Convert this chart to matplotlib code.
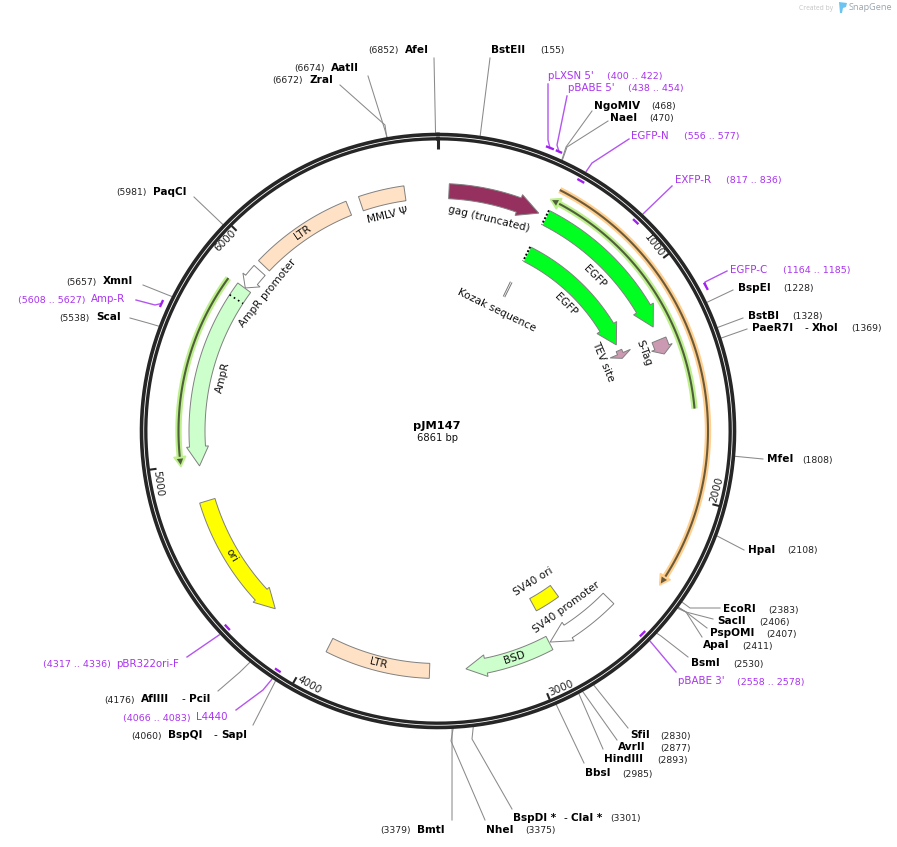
import numpy as np
import matplotlib
matplotlib.use("Agg")
import matplotlib.pyplot as plt
from matplotlib.patches import Polygon

plt.rcParams['font.family'] = ['DejaVu Sans']

# ---------- data ----------
PLASMID_NAME = "pJM147"
PLASMID_LEN = 6861
RULER_TICKS = [1000, 2000, 3000, 4000, 5000, 6000]

# annotated features: start, arrowhead base, tip (bp); None head -> plain box
FEATURE_NAMES = ["gag (truncated)", "EGFP", "EGFP", "TEV site", "S-Tag", "LTR", "MMLV \u03a8",
                 "AmpR promoter", "AmpR", "ori", "LTR", "BSD", "SV40 promoter", "SV40 ori"]
FEATURE_START = [50, 509, 507, 1258, 1288, 5975, 6504, 5946, 5841, 4825, 3943, 2902, 2563, 2744]
FEATURE_HEAD = [375, 1130, 1115, 1277, 1325, None, None, 5889, 5075, 4330, None, 3211, 2802, None]
FEATURE_END = [473, 1224, 1224, 1305, 1357, 6445, 6710, 5843, 4987, 4240, 3469, 3303, 2897, 2884]
FEATURE_LABEL_BP = [257, 865, 861, 1283, 1321, 6209, 6608, 5889, 5412, 4555, 3705, 3077, 2741, 2817]

# thin "direction" features
LINE_START = [511, 1620, 5834]
LINE_END = [2371, 501, 5003]

# enzyme sites
ENZYME_NAMES = ["AfeI", "BstEII", "AatII", "ZraI", "PaqCI", "XmnI", "ScaI", "NgoMIV", "NaeI",
                "BspEI", "BstBI", "PaeR7I", "MfeI", "HpaI", "EcoRI", "SacII", "PspOMI", "ApaI",
                "BsmI", "SfiI", "AvrII", "HindIII", "BbsI", "BspDI *", "NheI", "BmtI",
                "AflIII", "BspQI"]
ENZYME_POS = [6852, 155, 6674, 6672, 5981, 5657, 5538, 468, 470,
              1228, 1328, 1369, 1808, 2108, 2383, 2406, 2407, 2411,
              2530, 2830, 2877, 2893, 2985, 3301, 3375, 3379,
              4176, 4060]

# primers
PRIMER_NAMES = ["pLXSN 5'", "pBABE 5'", "EGFP-N", "EXFP-R", "EGFP-C", "Amp-R", "pBABE 3'",
                "pBR322ori-F", "L4440"]
PRIMER_START = [400, 438, 556, 817, 1164, 5608, 2558, 4317, 4066]
PRIMER_END = [422, 454, 577, 836, 1185, 5627, 2578, 4336, 4083]

# ---------- layout & style ----------
W, H = 897, 847
CX, CY = 438, 431
GRAY_EDGE = "#808080"
PURPLE = "#AA33EE"
PURPLE_LINE = "#B455F0"

FEATURE_STYLE = [
    dict(c="#96305F", r=240, label_r=218, w=7.5, hw=11),
    dict(c="#00FF21", r=239, label_r=220, w=8, hw=11.5, dots=True),
    dict(c="#00FF21", r=198, label_r=180, w=8, hw=11.5, dots=True),
    dict(c="#CC99B2", r=198, label_r=179, w=3, hw=11),
    dict(c="#CC99B2", r=239, label_r=220, w=7.5, hw=11),
    dict(c="#FFE2C6", r=240, label_r=240, w=7.5, hw=11),
    dict(c="#FFE2C6", r=240, label_r=222, w=7.5, hw=11),
    dict(c="#FFFFFF", r=240, label_r=219, w=7.5, hw=11),
    dict(c="#CCFFCC", r=241, label_r=222, w=8, hw=11),
    dict(c="#FFFF00", r=241, label_r=241, w=8, hw=11),
    dict(c="#FFE2C6", r=240, label_r=240, w=7.5, hw=11),
    dict(c="#CCFFCC", r=239.5, label_r=239, w=7.5, hw=11),
    dict(c="#FFFFFF", r=239, label_r=218, w=7.5, hw=11),
    dict(c="#FFFF00", r=198, label_r=178, w=7, hw=7),
]
LINE_STYLE = [
    dict(halo="#FFCF8F", dark="#6B5A3A", r=270),
    dict(halo="#BDF08C", dark="#4F5F3C", r=257.5),
    dict(halo="#BDF08C", dark="#4F5F3C", r=259.5),
]
# name x, y, position-text x, leader points (pixels), optional partner (dash x, name x, name)
ENZYME_LAYOUT = [
    (405, 50, 368, [(434, 58)], None),
    (491, 50, 540, [(490, 58)], None),
    (331, 68, 294, [(368, 76)], None),
    (309, 80, 272, [(385, 125), (340, 85)], None),
    (153, 192, 116, [(194, 197)], None),
    (103, 281, 66, [(168, 295), (143, 285)], None),
    (96, 317, 59, [(148, 323), (130, 318)], None),
    (594, 106, 651, [(566, 147), (592, 111)], None),
    (610, 118, 649, [(567, 147), (608, 121)], None),
    (738, 288, 783, [(733, 290)], None),
    (748, 316, 792, [(743, 318)], None),
    (752, 328, 851, [(747, 329)], (804, 812, "XhoI")),
    (767, 459, 802, [(763, 459)], None),
    (748, 550, 787, [(744, 550)], None),
    (723, 609, 768, [(690, 608), (720, 608)], None),
    (717, 621, 759, [(686, 612), (713, 619)], None),
    (710, 633, 766, [(686, 612), (707, 628)], None),
    (703, 645, 742, [(686, 612), (702, 637)], None),
    (691, 663, 733, [(661, 636), (688, 657)], None),
    (630, 735, 660, [(628, 728)], None),
    (618, 747, 660, [(617, 740)], None),
    (604, 759, 657, [(603, 749)], None),
    (585, 773, 622, [(584, 763)], None),
    (513, 818, 610, [(472, 739), (512, 809)], (563, 571, "ClaI *")),
    (486, 830, 525, [(451, 741), (485, 820)], None),
    (417, 830, 380, [(452, 820)], None),
    (141, 699, 104, [(240, 672), (218, 691)], (181, 189, "PciI")),
    (168, 735, 131, [(253, 725)], (213, 221, "SapI")),
]
# name x, y, position x, inside ring?, leader points
PRIMER_LAYOUT = [
    (548, 76, 607, False, [(548, 140), (548, 84)]),
    (568, 88, 628, False, [(557, 145), (567, 96)]),
    (631, 136, 684, True, [(592, 163), (629, 139)]),
    (675, 180, 726, True, [(672, 186)]),
    (730, 270, 783, False, [(705, 282), (727, 271)]),
    (91, 299, 18, False, [(155, 305), (136, 300)]),
    (678, 681, 737, True, [(676, 672)]),
    (116, 664, 43, True, [(187, 657)]),
    (196, 717, 123, True, [(263, 690), (236, 710)]),
]


def ang(bp):
    return np.asarray(bp, float) / PLASMID_LEN * 2 * np.pi


def pt(bp, r):
    a = ang(bp)
    return CX + r * np.sin(a), CY - r * np.cos(a)


def arc(b0, b1, r, n=80):
    bs = np.linspace(b0, b1, n)
    return np.column_stack(pt(bs, r))


def tangent_rot(bp):
    deg = float(np.degrees(ang(bp)))
    return 180 - deg if 90 < deg < 270 else -deg


fig = plt.figure(figsize=(W / 100, H / 100), dpi=100)
ax = fig.add_axes([0, 0, 1, 1])
ax.set_xlim(0, W)
ax.set_ylim(H, 0)
ax.axis("off")

# ring
ax.plot(*arc(0, PLASMID_LEN, 296.5, 600).T, color="#262626", lw=2.6, zorder=5)
ax.plot(*arc(0, PLASMID_LEN, 292.2, 600).T, color="#262626", lw=2.4, zorder=5)

# ruler
x0, y0 = pt(0, 292)
x1, y1 = pt(0, 282)
ax.plot([x0, x1], [y0, y1], color="#262626", lw=2.2, solid_capstyle="butt", zorder=5)
for t in RULER_TICKS:
    x0, y0 = pt(t, 291)
    x1, y1 = pt(t, 284)
    ax.plot([x0, x1], [y0, y1], color="#262626", lw=1.5, solid_capstyle="butt", zorder=5)
    off = 3 / 360 * PLASMID_LEN
    lx, ly = pt(t - off, 285)
    ax.text(lx, ly, str(t), fontsize=7.5, rotation=tangent_rot(t), rotation_mode="anchor",
            ha="center", va="center", color="#222222")

# features
for name, s, h, e, lb, st in zip(FEATURE_NAMES, FEATURE_START, FEATURE_HEAD, FEATURE_END,
                                 FEATURE_LABEL_BP, FEATURE_STYLE):
    r, w, hw = st["r"], st["w"], st["hw"]
    if h is None:
        pts = np.vstack([arc(s, e, r + w), arc(e, s, r - w)])
    else:
        pts = np.vstack([arc(s, h, r + w), arc(h, h, r + hw, 1), arc(e, e, r, 1),
                         arc(h, h, r - hw, 1), arc(h, s, r - w)])
    ax.add_patch(Polygon(pts, closed=True, facecolor=st["c"], edgecolor=GRAY_EDGE, lw=0.7, zorder=3))
    if st.get("dots"):
        a = np.array(pt(s, r + w))
        b = np.array(pt(s, r - w))
        ax.plot([a[0], b[0]], [a[1], b[1]], color="white", lw=1.4, zorder=4)
        ax.plot([a[0], b[0]], [a[1], b[1]], color="black", lw=1.4, ls=(0, (1, 1)), zorder=4)
    lx, ly = pt(lb, st["label_r"])
    ax.text(lx, ly, name, fontsize=7.6, rotation=tangent_rot(lb), rotation_mode="anchor",
            ha="center", va="center", color="#111111", zorder=6)

# AmpR dotted divider
a = np.array(pt(5778, 249))
b = np.array(pt(5778, 233))
ax.plot([a[0], b[0]], [a[1], b[1]], color="black", lw=1.2, ls=(0, (1, 2)), zorder=4)

# Kozak sequence (thin feature + label)
KOZAK_BP = (493, 505)
for kb in KOZAK_BP:
    a = np.array(pt(kb, 150))
    b = np.array(pt(kb, 165.5))
    ax.plot([a[0], b[0]], [a[1], b[1]], color="#777777", lw=0.7, zorder=3)
lx, ly = pt(495, 134.6)
ax.text(lx, ly, "Kozak sequence", fontsize=7.6, rotation=tangent_rot(495), rotation_mode="anchor",
        ha="center", va="center", color="#111111")

# thin direction features
for s, e, st in zip(LINE_START, LINE_END, LINE_STYLE):
    r = st["r"]
    sign = 1 if e > s else -1
    hb = e - sign * 34
    ax.plot(*arc(s, hb, r).T, color=st["halo"], lw=4.6, solid_capstyle="butt", zorder=2)
    halo = np.vstack([arc(hb, hb, r + 6, 1), arc(e + sign * 8, e + sign * 8, r, 1), arc(hb, hb, r - 6, 1)])
    ax.add_patch(Polygon(halo, closed=True, facecolor=st["halo"], edgecolor=st["halo"], lw=1.0, zorder=2))
    ax.plot(*arc(s, hb, r).T, color=st["dark"], lw=1.5, solid_capstyle="butt", zorder=3)
    hb2 = e - sign * 26
    head = np.vstack([arc(hb2, hb2, r + 3.2, 1), arc(e, e, r, 1), arc(hb2, hb2, r - 3.2, 1)])
    ax.add_patch(Polygon(head, closed=True, facecolor=st["dark"], edgecolor="none", zorder=3))

# enzymes
for name, pos, (nx, ny, px, lead, partner) in zip(ENZYME_NAMES, ENZYME_POS, ENZYME_LAYOUT):
    start = pt(pos, 298)
    pts = np.array([start] + lead)
    ax.plot(pts[:, 0], pts[:, 1], color="#8A8A8A", lw=0.75, zorder=1)
    ax.text(nx, ny, name, fontsize=7.6, fontweight="bold", ha="left", va="center", color="black")
    ax.text(px, ny + 1, f"({pos})", fontsize=6.7, ha="left", va="center", color="#222222")
    if partner:
        dx, nx2, n2 = partner
        ax.text(dx, ny, "-", fontsize=7.6, ha="left", va="center", color="black")
        ax.text(nx2, ny, n2, fontsize=7.6, fontweight="bold", ha="left", va="center", color="black")

# primers
for name, s, e, (nx, ny, px, inside, lead) in zip(PRIMER_NAMES, PRIMER_START, PRIMER_END, PRIMER_LAYOUT):
    r_tick = 288 if inside else 304.5
    r_lead = 299 if inside else 304.5
    ax.plot(*arc(s, e, r_tick, 10).T, color="#A020F0", lw=1.7, solid_capstyle="projecting", zorder=6)
    mid = (s + e) / 2
    pts = np.array([pt(mid, r_lead)] + lead)
    ax.plot(pts[:, 0], pts[:, 1], color=PURPLE_LINE, lw=1.0, zorder=1)
    ax.text(nx, ny, name, fontsize=7.4, ha="left", va="center", color=PURPLE)
    ax.text(px, ny + 1, f"({s} .. {e})", fontsize=6.8, ha="left", va="center", color=PURPLE)

# centre title
ax.text(437, 426, PLASMID_NAME, fontsize=8.2, fontweight="bold", ha="center", va="center", color="black")
ax.text(437.5, 438, f"{PLASMID_LEN} bp", fontsize=7.2, ha="center", va="center", color="#111111")

# credit
ax.text(799, 8, "Created by", fontsize=4.9, ha="left", va="center", color="#C4C4C4", family="Open Sans")
ax.add_patch(Polygon([(839, 2), (847, 3), (846, 7), (843, 8), (842, 13), (840, 13)], closed=True,
                     facecolor="#6CC5F0", edgecolor="none"))
ax.text(849, 8, "SnapGene", fontsize=6.6, ha="left", va="center", color="#9AA5AE", family="Open Sans")

fig.savefig("out.png", dpi=100)
